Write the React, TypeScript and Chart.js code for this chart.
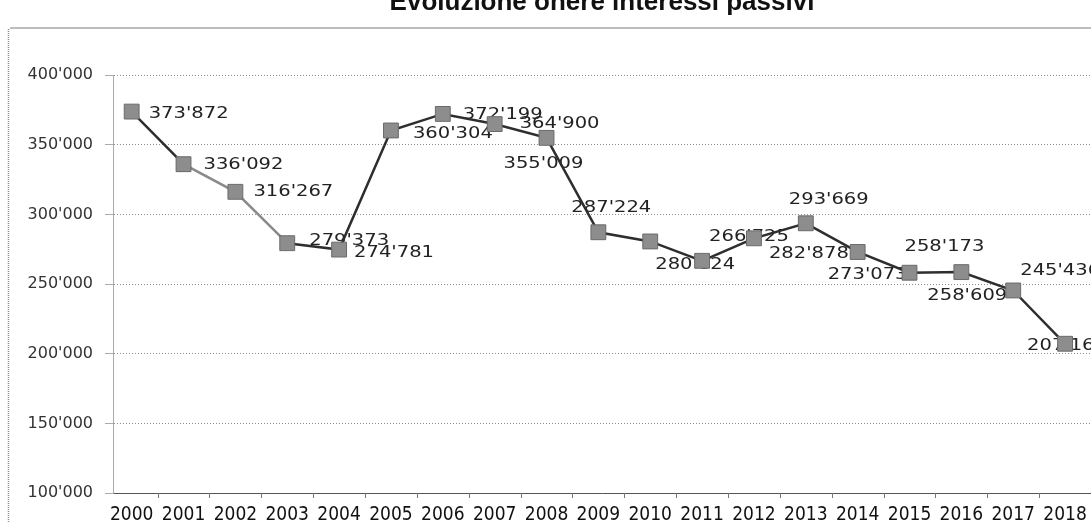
import { useEffect, useRef } from "react";
import { Chart, registerables } from "chart.js";

Chart.register(...registerables);

const titleText = "Evoluzione onere interessi passivi";
const years = [2000, 2001, 2002, 2003, 2004, 2005, 2006, 2007, 2008, 2009, 2010, 2011, 2012, 2013, 2014, 2015, 2016, 2017, 2018];
const interessiPassivi = [373872, 336092, 316267, 279373, 274781, 360304, 372199, 364900, 355009, 287224, 280624, 266725, 282878, 293669, 273073, 258173, 258609, 245436, 207163];
const yTicks = [100000, 150000, 200000, 250000, 300000, 350000, 400000];

// label placement relative to each point (left edge / vertical centre offsets)
const labelDx = [17, 20, 18, 22, 15, 22, 20, 25, -43, -27, 5, 7, 15, -17, -30, -5, -34, 7, -38];
const labelDy = [2, 1, 0, -2, 3, 3, 1, 0, 26, -24, 23, -24, 16, -23, 23, -26, 24, -20, 2];

const fmt = (v: number) => {
  const t = Math.floor(v / 1000);
  const r = Math.round(v % 1000);
  return `${t}'${String(r).padStart(3, "0")}`;
};

const framePlugin = {
  id: "frame",
  beforeDraw(chart: any) {
    const ctx = chart.ctx;
    ctx.save();
    ctx.fillStyle = "#ffffff";
    ctx.fillRect(0, 0, chart.width, chart.height);
    ctx.strokeStyle = "#bdbdbd";
    ctx.lineWidth = 2;
    ctx.beginPath();
    ctx.moveTo(10, 41);
    ctx.lineTo(chart.width, 41);
    ctx.stroke();
    ctx.strokeStyle = "#8a8a8a";
    ctx.lineWidth = 1.5;
    ctx.setLineDash([1, 1]);
    ctx.beginPath();
    ctx.moveTo(8.5, 42);
    ctx.lineTo(8.5, chart.height);
    ctx.stroke();
    ctx.restore();
  },
  afterDraw(chart: any) {
    // small category-boundary tick marks under the x axis
    const ctx = chart.ctx;
    const xs = chart.scales.x;
    const bottom = chart.chartArea.bottom;
    ctx.save();
    ctx.strokeStyle = "#777777";
    ctx.lineWidth = 1;
    ctx.beginPath();
    years.slice(0, -1).forEach((y) => {
      const px = Math.round(xs.getPixelForValue(y + 0.5)) + 0.5;
      ctx.moveTo(px, bottom);
      ctx.lineTo(px, bottom + 5);
    });
    ctx.stroke();
    ctx.restore();
  },
};

const labelPlugin = {
  id: "pointLabels",
  beforeDatasetsDraw(chart: any) {
    const ctx = chart.ctx;
    const meta = chart.getDatasetMeta(0);
    ctx.save();
    ctx.font = '16px "DejaVu Sans", sans-serif';
    ctx.fillStyle = "#222222";
    ctx.textBaseline = "middle";
    ctx.textAlign = "left";
    meta.data.forEach((pt: any, i: number) => {
      ctx.save();
      ctx.translate(pt.x + labelDx[i], pt.y + labelDy[i]);
      ctx.scale(1.22, 1);
      ctx.fillText(fmt(interessiPassivi[i]), 0, 0);
      ctx.restore();
    });
    ctx.restore();
  },
};

export default function App() {
  const ref = useRef<HTMLCanvasElement | null>(null);

  useEffect(() => {
    if (!ref.current) return;
    const chart = new Chart(ref.current, {
      type: "line",
      data: {
        datasets: [
          {
            data: years.map((y, i) => ({ x: y, y: interessiPassivi[i] })),
            borderColor: "#2e2e2e",
            borderWidth: 2.5,
            pointStyle: "rect",
            pointRadius: 10.5,
            pointHoverRadius: 10.5,
            pointBackgroundColor: "#8d8d8d",
            pointBorderColor: "#6a6a6a",
            pointBorderWidth: 1,
            tension: 0,
            segment: {
              borderColor: (c: any) => (c.p0DataIndex === 1 || c.p0DataIndex === 2 ? "#8a8a8a" : undefined),
            },
          } as any,
        ],
      },
      options: {
        animation: false,
        responsive: false,
        layout: { padding: 0, autoPadding: false },
        plugins: {
          legend: { display: false },
          tooltip: { enabled: false },
          title: {
            display: true,
            text: titleText,
            fullSize: false,
            color: "#111111",
            font: { family: '"Liberation Sans", Arial, sans-serif', size: 26, weight: "bold" },
            padding: { top: 0, bottom: 57 },
          },
        },
        scales: {
          x: {
            type: "linear",
            min: 1999.64,
            max: 2018.5,
            afterBuildTicks: (s: any) => {
              s.ticks = years.map((v) => ({ value: v }));
            },
            afterFit: (s: any) => {
              s.height = 29;
              s.paddingLeft = 0;
              s.paddingRight = 0;
            },
            grid: { display: false, drawTicks: false, tickLength: 0 },
            border: { display: true, color: "#555555", width: 1 },
            ticks: {
              padding: 11,
              color: "#111111",
              autoSkip: false,
              maxRotation: 0,
              font: { family: '"DejaVu Sans Condensed", sans-serif', size: 19 },
              callback: (v: any) => String(v),
            },
          },
          y: {
            type: "linear",
            min: 100000,
            max: 400000,
            afterBuildTicks: (s: any) => {
              s.ticks = yTicks.map((v) => ({ value: v }));
            },
            afterFit: (s: any) => {
              s.width = 113;
            },
            grid: { color: "#8c8c8c", lineWidth: 1, tickLength: 8, tickColor: "#aaaaaa" },
            border: { display: true, color: "#aaaaaa", width: 1, dash: [1, 2] },
            ticks: {
              padding: 12,
              color: "#333333",
              font: { family: '"DejaVu Sans", sans-serif', size: 16 },
              callback: (v: any) => fmt(Number(v)),
            },
          },
        },
      },
      plugins: [framePlugin, labelPlugin],
    });
    return () => chart.destroy();
  }, []);

  return (
    <div style={{ position: "absolute", left: 0, top: -13, width: 1091, height: 535, overflow: "hidden" }}>
      <canvas ref={ref} width={1091} height={535} style={{ display: "block" }} />
    </div>
  );
}
